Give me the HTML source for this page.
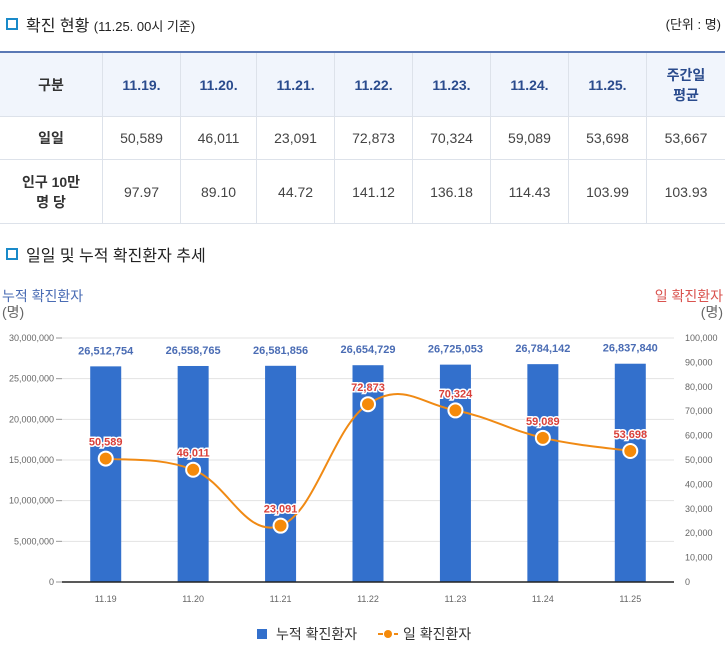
<!DOCTYPE html>
<html><head><meta charset="utf-8">
<style>
body{margin:0;width:725px;height:649px;background:#fff;font-family:"Liberation Sans","Noto Sans CJK KR",sans-serif;color:#333;position:relative;overflow:hidden}
.h{position:absolute;font-size:16px;color:#222}
.sq{display:inline-block;width:8px;height:8px;border:2px solid #1a8ac9;background:#fff;margin-right:8px;vertical-align:1px}
table{position:absolute;left:0;top:51px;width:725px;border-collapse:collapse;border-top:2px solid #5a78b5;font-size:14px;text-align:center}
td,th{border:1px solid #dde2ea;padding:0}
th{background:#f1f5fc;color:#2a4b8d;font-weight:bold;height:63px}
td{height:42px;color:#444}
td.l{font-weight:bold;color:#333}
tr.r2 td{height:63px}
tr>*:first-child{border-left:none}tr>*:last-child{border-right:none}
</style></head><body>
<div class="h" style="left:6px;top:12px"><span class="sq"></span>확진 현황 <span style="font-size:13px">(11.25. 00시 기준)</span></div>
<div class="h" style="right:4px;top:14px;font-size:13px">(단위 : 명)</div>
<table>
<tr><th style="width:102px;color:#333">구분</th><th>11.19.</th><th>11.20.</th><th>11.21.</th><th>11.22.</th><th>11.23.</th><th>11.24.</th><th>11.25.</th><th style="width:78px">주간일<br>평균</th></tr>
<tr><td class="l">일일</td><td>50,589</td><td>46,011</td><td>23,091</td><td>72,873</td><td>70,324</td><td>59,089</td><td>53,698</td><td>53,667</td></tr>
<tr class="r2"><td class="l">인구 10만<br>명 당</td><td>97.97</td><td>89.10</td><td>44.72</td><td>141.12</td><td>136.18</td><td>114.43</td><td>103.99</td><td>103.93</td></tr>
</table>
<div class="h" style="left:6px;top:242px"><span class="sq"></span>일일 및 누적 확진환자 추세</div>
<svg id="c" width="725" height="649" style="position:absolute;left:0;top:0"></svg>
<script>
const categories=["11.19","11.20","11.21","11.22","11.23","11.24","11.25"];
const cumulative=[26512754,26558765,26581856,26654729,26725053,26784142,26837840];
const daily=[50589,46011,23091,72873,70324,59089,53698];
const leftTicks=[0,5000000,10000000,15000000,20000000,25000000,30000000];
const rightTicks=[0,10000,20000,30000,40000,50000,60000,70000,80000,90000,100000];
const X0=62,X1=674,Y0=582,Y1=338;
const bw=(X1-X0)/categories.length;
const xs=i=>X0+bw*(i+0.5);
const yl=v=>Y0-(v/30000000)*(Y0-Y1);
const yr=v=>Y0-(v/100000)*(Y0-Y1);
const svg=document.getElementById('c');const NS="http://www.w3.org/2000/svg";
function mk(t,a,txt){const e=document.createElementNS(NS,t);for(const k in a)e.setAttribute(k,a[k]);if(txt!=null)e.textContent=txt;svg.appendChild(e);return e;}
const f=n=>n.toLocaleString('en-US');
let e;
e=mk('text',{x:2,y:301,'font-size':14,fill:'#4a6cb4'},'누적 확진환자');
mk('text',{x:2,y:317,'font-size':14,fill:'#666'},'(명)');
e=mk('text',{x:723,y:301,'font-size':14,fill:'#d9534f','text-anchor':'end'},'일 확진환자');
mk('text',{x:723,y:317,'font-size':14,fill:'#666','text-anchor':'end'},'(명)');
leftTicks.forEach(v=>{const y=yl(v);
e=mk('line',{x1:X0,x2:X1,y1:y,y2:y,stroke:'#e3e3e3'});
mk('line',{x1:56,x2:X0,y1:y,y2:y,stroke:'#999'});
e=mk('text',{x:54,y:y+3,'font-size':9,fill:'#666','text-anchor':'end'},f(v));});
rightTicks.forEach(v=>{e=mk('text',{x:685,y:yr(v)+3,'font-size':9,fill:'#666'},f(v));});
mk('line',{x1:X0,x2:X1,y1:Y1,y2:Y0,stroke:'none'});
categories.forEach((c,i)=>{const x=xs(i),y=yl(cumulative[i]);
e=mk('rect',{x:x-15.5,y:y,width:31,height:Y0-y,fill:'#3370cc'});
e=mk('text',{x:x,y:y-12,'font-size':11,'font-weight':'bold',fill:'#4a6cb4','text-anchor':'middle'},f(cumulative[i]));
e=mk('text',{x:x,y:Y0+20,'font-size':9,fill:'#666','text-anchor':'middle'},c);});
mk('line',{x1:X0,x2:X1,y1:Y0,y2:Y0,stroke:'#222','stroke-width':1.5});
const pts=daily.map((v,i)=>[xs(i),yr(v)]);
let d='M'+pts[0][0]+','+pts[0][1];
for(let i=0;i<pts.length-1;i++){const p0=pts[i-1]||pts[i],p1=pts[i],p2=pts[i+1],p3=pts[i+2]||p2;const t=0.2;
d+=` C${p1[0]+(p2[0]-p0[0])*t},${p1[1]+(p2[1]-p0[1])*t} ${p2[0]-(p3[0]-p1[0])*t},${p2[1]-(p3[1]-p1[1])*t} ${p2[0]},${p2[1]}`;}
e=mk('path',{d:d,fill:'none',stroke:'#f08a14','stroke-width':2});
pts.forEach((p,i)=>{e=mk('circle',{cx:p[0],cy:p[1],r:7,fill:'#f58a0a',stroke:'#fff','stroke-width':2});
e=mk('text',{x:p[0],y:p[1]-13,'font-size':11,'font-weight':'bold',fill:'#d9403a',stroke:'#fff','stroke-width':3,'paint-order':'stroke','text-anchor':'middle'},f(daily[i]));});
e=mk('rect',{x:257,y:629,width:10,height:10,fill:'#3370cc'});
mk('text',{x:276,y:639,'font-size':14,fill:'#333'},'누적 확진환자');
e=mk('line',{x1:378,x2:398,y1:634,y2:634,stroke:'#f08a14','stroke-width':2,'stroke-dasharray':'5,3'});
mk('circle',{cx:388,cy:634,r:4,fill:'#f58a0a'});
mk('text',{x:403,y:639,'font-size':14,fill:'#333'},'일 확진환자');
</script>
</body></html>
